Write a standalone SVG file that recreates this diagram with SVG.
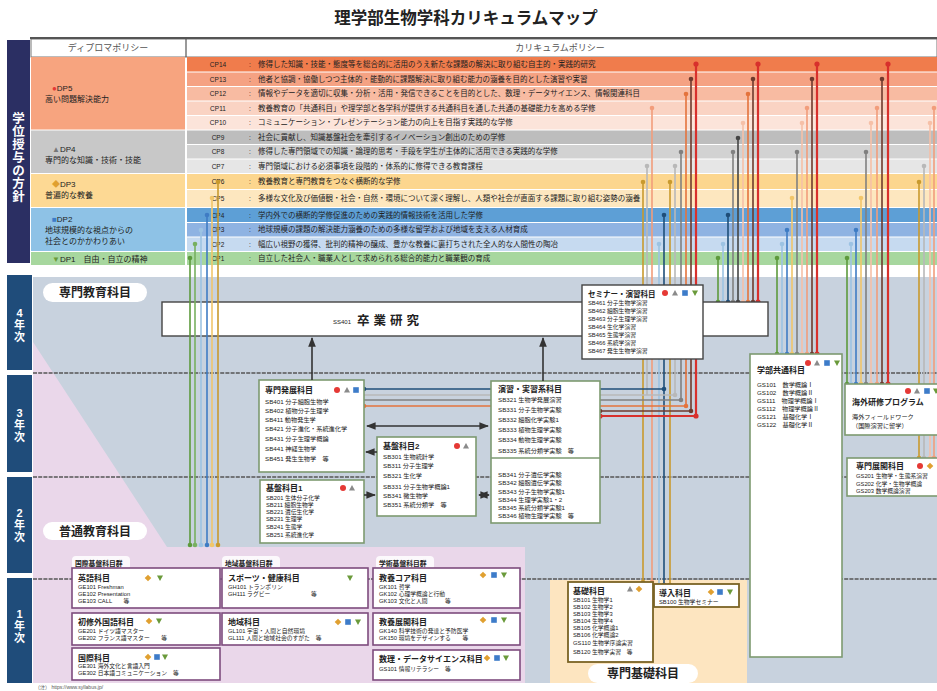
<svg xmlns="http://www.w3.org/2000/svg" width="937" height="691" viewBox="0 0 937 691">
<defs>
<style>
text{font-family:"Liberation Sans","Noto Sans CJK JP",sans-serif;fill:#222}
.ttl{font-size:16.5px;font-weight:bold;text-anchor:middle}
.hd{font-size:9px;fill:#555;text-anchor:middle}
.cpl{font-size:6.5px;fill:#444;text-anchor:middle}
.cpt{font-size:7.5px}
.dp{font-size:8px}
.bt{font-size:8px;font-weight:bold}
.bt2{font-size:7.5px;font-weight:bold}
.r{font-size:6.2px}
.r2{font-size:5.8px}
.pill{font-size:12px;font-weight:bold;text-anchor:middle}
.grp{font-size:6.8px;font-weight:bold}
.yr{font-size:11px;font-weight:bold;fill:#fff;text-anchor:middle}
.vt{font-size:12.5px;font-weight:bold;fill:#fff;text-anchor:middle}
.box{fill:#fff;stroke:#7d9a70;stroke-width:1.6}
.boxd{fill:#fff;stroke:#444;stroke-width:1.4}
.bx1{fill:#fff;stroke:#7d4c7d;stroke-width:1.6}
.bx2{fill:#fff;stroke:#7a6324;stroke-width:1.8}
.dash{stroke:#555;stroke-width:1.4;stroke-dasharray:4 1.2;fill:none}
.ar{stroke:#333;stroke-width:1.5;fill:none}
#conn-back path,#conn-front path{stroke-width:1.6;fill:none}
circle.d{stroke:none}
.G1{stroke:#5d9a3c;fill:#5d9a3c}
.G2{stroke:#78b060;fill:#78b060}
.LB{stroke:#9dc3e3;fill:#9dc3e3}
.BL{stroke:#3f7cc4;fill:#3f7cc4}
.NV{stroke:#1f4e79;fill:#1f4e79}
.LY{stroke:#f2c66a;fill:#f2c66a}
.GD{stroke:#c99a2e;fill:#c99a2e}
.LG{stroke:#b8b8b8;fill:#b8b8b8}
.GR{stroke:#808080;fill:#808080}
.DG{stroke:#454545;fill:#454545}
.PS{stroke:#f6c0a8;fill:#f6c0a8}
.LS{stroke:#f29d7b;fill:#f29d7b}
.OR{stroke:#e4733d;fill:#e4733d}
.DK{stroke:#6e3a2e;fill:#6e3a2e}
.RD{stroke:#d8302c;fill:#d8302c}
#conn-back path.RD{stroke-width:2.2}
</style>
<marker id="ah" viewBox="0 0 10 10" refX="9" refY="5" markerWidth="6" markerHeight="6" orient="auto-start-reverse"><path d="M0,1 L10,5 L0,9Z" fill="#333"/></marker>
<g id="mC"><circle r="3" fill="#e53935"/></g>
<g id="mT"><path d="M0,-3 L3,2.5 L-3,2.5Z" fill="#8a8a8a"/></g>
<g id="mS"><rect x="-2.8" y="-2.8" width="5.6" height="5.6" fill="#3d7cc9"/></g>
<g id="mV"><path d="M-3,-2.5 L3,-2.5 L0,3Z" fill="#6a9a3a"/></g>
<g id="mD"><path d="M0,-3.3 L3.3,0 L0,3.3 L-3.3,0Z" fill="#e0a030"/></g>
</defs>

<rect width="937" height="691" fill="#fff"/>
<text class="ttl" x="466" y="24">理学部生物学科カリキュラムマップ</text>

<!-- policy table -->
<g id="policy">
<rect x="31" y="39" width="906" height="18" fill="#fff" stroke="#777" stroke-width="1"/>
<line x1="30" y1="38" x2="937" y2="38" stroke="#555" stroke-width="2"/>
<line x1="186" y1="39" x2="186" y2="57" stroke="#555" stroke-width="1.2"/>
<text class="hd" x="108" y="51">ディプロマポリシー</text>
<text class="hd" x="560" y="51">カリキュラムポリシー</text>

<rect x="31" y="57" width="154" height="72.5" fill="#f7a47f"/>
<rect x="31" y="130.5" width="154" height="42.5" fill="#c8c8c8"/>
<rect x="31" y="174" width="154" height="33" fill="#fdd994"/>
<rect x="31" y="208" width="154" height="43" fill="#8ec2e6"/>
<rect x="31" y="252" width="154" height="13" fill="#a7d79e"/>

<text class="dp" x="52" y="91"><tspan fill="#e53935">●</tspan>DP5</text>
<text class="dp" x="45" y="102">高い問題解決能力</text>
<text class="dp" x="52" y="152"><tspan fill="#777">▲</tspan>DP4</text>
<text class="dp" x="45" y="163">専門的な知識・技術・技能</text>
<text class="dp" x="52" y="187"><tspan fill="#e0a030">◆</tspan>DP3</text>
<text class="dp" x="45" y="198">普遍的な教養</text>
<text class="dp" x="52" y="222"><tspan fill="#3d7cc9">■</tspan>DP2</text>
<text class="dp" x="45" y="233">地球規模的な視点からの</text>
<text class="dp" x="45" y="244">社会とのかかわりあい</text>
<text class="dp" x="52" y="262"><tspan fill="#6a9a3a">▼</tspan>DP1　自由・自立の精神</text>

<rect x="187" y="57" width="750" height="14.5" fill="#f07c4c"/>
<rect x="187" y="72.5" width="750" height="13.5" fill="#f5a283"/>
<rect x="187" y="87" width="750" height="13.5" fill="#f8bba2"/>
<rect x="187" y="101.5" width="750" height="13.5" fill="#fad3c3"/>
<rect x="187" y="116" width="750" height="13.5" fill="#fce4da"/>
<rect x="187" y="130.5" width="750" height="13.5" fill="#bdbdbd"/>
<rect x="187" y="145" width="750" height="13.5" fill="#d2d2d2"/>
<rect x="187" y="159.5" width="750" height="13.5" fill="#e6e6e6"/>
<rect x="187" y="174" width="750" height="15" fill="#fcd68e"/>
<rect x="187" y="190" width="750" height="17" fill="#fde7bf"/>
<rect x="187" y="208" width="750" height="14" fill="#5d9fd6"/>
<rect x="187" y="223" width="750" height="13.5" fill="#8fb3e2"/>
<rect x="187" y="237.5" width="750" height="13.5" fill="#c6daf0"/>
<rect x="187" y="252" width="750" height="13" fill="#a7d79e"/>

<g class="cpl">
<text x="218" y="67">CP14</text><text x="218" y="82">CP13</text><text x="218" y="96">CP12</text>
<text x="218" y="111">CP11</text><text x="218" y="125">CP10</text><text x="218" y="140">CP9</text>
<text x="218" y="154">CP8</text><text x="218" y="169">CP7</text><text x="218" y="184">CP6</text>
<text x="218" y="201">CP5</text><text x="218" y="218">CP4</text><text x="218" y="232">CP3</text>
<text x="218" y="247">CP2</text><text x="218" y="261">CP1</text>
<text x="250" y="67">:</text><text x="250" y="82">:</text><text x="250" y="96">:</text><text x="250" y="111">:</text>
<text x="250" y="125">:</text><text x="250" y="140">:</text><text x="250" y="154">:</text><text x="250" y="169">:</text>
<text x="250" y="184">:</text><text x="250" y="201">:</text><text x="250" y="218">:</text><text x="250" y="232">:</text>
<text x="250" y="247">:</text><text x="250" y="261">:</text>
</g>
<g class="cpt">
<text x="258" y="67">修得した知識・技能・態度等を総合的に活用のうえ新たな課題の解決に取り組む自主的・実践的研究</text>
<text x="258" y="82">他者と協調・協働しつつ主体的・能動的に課題解決に取り組む能力の涵養を目的とした演習や実習</text>
<text x="258" y="96">情報やデータを適切に収集・分析・活用・発信できることを目的とした、数理・データサイエンス、情報関連科目</text>
<text x="258" y="111">教養教育の「共通科目」や理学部と各学科が提供する共通科目を通した共通の基礎能力を高める学修</text>
<text x="258" y="125">コミュニケーション・プレゼンテーション能力の向上を目指す実践的な学修</text>
<text x="258" y="140">社会に貢献し、知識基盤社会を牽引するイノベーション創出のための学修</text>
<text x="258" y="154">修得した専門領域での知識・論理的思考・手段を学生が主体的に活用できる実践的な学修</text>
<text x="258" y="169">専門領域における必須事項を段階的・体系的に修得できる教育課程</text>
<text x="258" y="184">教養教育と専門教育をつなぐ横断的な学修</text>
<text x="258" y="201">多様な文化及び価値観・社会・自然・環境について深く理解し、人類や社会が直面する課題に取り組む姿勢の涵養</text>
<text x="258" y="218">学内外での横断的学修促進のための実践的情報技術を活用した学修</text>
<text x="258" y="232">地球規模の課題の解決能力涵養のための多様な留学および地域を支える人材育成</text>
<text x="258" y="247">幅広い視野の獲得、批判的精神の醸成、豊かな教養に裏打ちされた全人的な人間性の陶冶</text>
<text x="258" y="261">自立した社会人・職業人として求められる総合的能力と職業観の育成</text>
</g>
</g>

<g id="policy-label">
<rect x="7" y="40" width="23" height="223" fill="#2b2f63"/>
<text class="vt" x="18.5" y="123">学</text><text class="vt" x="18.5" y="136">位</text><text class="vt" x="18.5" y="149">授</text>
<text class="vt" x="18.5" y="162">与</text><text class="vt" x="18.5" y="175">の</text><text class="vt" x="18.5" y="188">方</text><text class="vt" x="18.5" y="201">針</text>
</g>

<!-- main area -->
<g id="areas">
<rect x="33" y="277" width="904" height="406" fill="#c8d2de"/>
<polygon points="33,342 167,547 525,547 525,683 33,683" fill="#ead7ea"/>
<rect x="550" y="580" width="197" height="103" fill="#fde5c0"/>
</g>

<g id="years">
<rect x="7" y="275" width="25" height="95" fill="#1f4c7a"/>
<text class="yr" x="19.5" y="317">4</text><text class="yr" x="19.5" y="329">年</text><text class="yr" x="19.5" y="341">次</text>
<rect x="7" y="375" width="25" height="97" fill="#1f4c7a"/>
<text class="yr" x="19.5" y="417">3</text><text class="yr" x="19.5" y="429">年</text><text class="yr" x="19.5" y="441">次</text>
<rect x="7" y="477" width="25" height="96" fill="#1f4c7a"/>
<text class="yr" x="19.5" y="517">2</text><text class="yr" x="19.5" y="529">年</text><text class="yr" x="19.5" y="541">次</text>
<rect x="7" y="578" width="25" height="105" fill="#1f4c7a"/>
<text class="yr" x="19.5" y="618">1</text><text class="yr" x="19.5" y="630">年</text><text class="yr" x="19.5" y="642">次</text>
</g>

<g id="year-lines">
<path class="dash" d="M33 373H937M33 477H937M33 579H937"/>
</g>

<g id="area-labels">
<rect x="43" y="283" width="104" height="19" rx="9.5" fill="#fff"/>
<text class="pill" x="95" y="297">専門教育科目</text>
<rect x="43" y="522" width="104" height="18" rx="9" fill="#fff"/>
<text class="pill" x="95" y="536">普通教育科目</text>
<rect x="588" y="664" width="110" height="19" rx="9.5" fill="#fff"/>
<text class="pill" x="643" y="678">専門基礎科目</text>
</g>

<!-- connectors drawn behind boxes -->
<g id="conn-back">
<path class="GD" d="M643 182V582"/><circle class="d GD" cx="643" cy="182" r="2.3"/><circle class="d GD" cx="643" cy="582" r="2.3"/>
<path class="LG" d="M647 166V395"/><circle class="d LG" cx="647" cy="166" r="2.3"/>
<path class="LS" d="M652 108V582"/><circle class="d LS" cx="652" cy="108" r="2.3"/><circle class="d LS" cx="652" cy="582" r="2.3"/>
<path class="LB" d="M659 244V585"/><circle class="d LB" cx="659" cy="244" r="2.3"/><circle class="d LB" cx="659" cy="585" r="2.3"/>
<path class="NV" d="M664 215V585"/><circle class="d NV" cx="664" cy="215" r="2.3"/><circle class="d NV" cx="664" cy="585" r="2.3"/>
<path class="GD" d="M670 182V585"/><circle class="d GD" cx="670" cy="182" r="2.3"/><circle class="d GD" cx="670" cy="585" r="2.3"/>
<path class="LG" d="M675 166V395"/><circle class="d LG" cx="675" cy="166" r="2.3"/>
<path class="GR" d="M681 152V400"/><circle class="d GR" cx="681" cy="152" r="2.3"/>
<path class="OR" d="M686 94V406"/><circle class="d OR" cx="686" cy="94" r="2.3"/>
<path class="DK" d="M691 79V411"/><circle class="d DK" cx="691" cy="79" r="2.3"/>
<path class="RD" d="M696 64V416"/><circle class="d RD" cx="696" cy="64" r="2.6"/>

<path class="NV" d="M364 389H664"/><circle class="d NV" cx="664" cy="389" r="2.3"/><circle class="d NV" cx="364" cy="389" r="2.3"/>
<path class="LG" d="M364 395H675"/><circle class="d LG" cx="675" cy="395" r="2.3"/>
<path class="GR" d="M364 400H681"/><circle class="d GR" cx="681" cy="400" r="2.3"/>
<path class="OR" d="M364 406H686"/><circle class="d OR" cx="686" cy="406" r="2.3"/><circle class="d OR" cx="364" cy="406" r="2.3"/>
<path class="DK" d="M600 411H691"/><circle class="d DK" cx="691" cy="411" r="2.3"/><circle class="d DK" cx="600" cy="411" r="2.3"/>
<path class="RD" d="M600 416H696"/><circle class="d RD" cx="696" cy="416" r="2.6"/><circle class="d RD" cx="600" cy="416" r="2.6"/>

<path class="G1" d="M718 258V302"/><circle class="d G1" cx="718" cy="258" r="2.3"/><circle class="d G1" cx="718" cy="302" r="2.3"/>
<path class="LB" d="M723 244V302"/><circle class="d LB" cx="723" cy="244" r="2.3"/><circle class="d LB" cx="723" cy="302" r="2.3"/>
<path class="NV" d="M728 215V302"/><circle class="d NV" cx="728" cy="215" r="2.3"/><circle class="d NV" cx="728" cy="302" r="2.3"/>
<path class="GR" d="M733 152V302"/><circle class="d GR" cx="733" cy="152" r="2.3"/><circle class="d GR" cx="733" cy="302" r="2.3"/>
<path class="DG" d="M738 138V302"/><circle class="d DG" cx="738" cy="138" r="2.3"/><circle class="d DG" cx="738" cy="302" r="2.3"/>
<path class="PS" d="M743 123V302"/><circle class="d PS" cx="743" cy="123" r="2.3"/><circle class="d PS" cx="743" cy="302" r="2.3"/>
<path class="OR" d="M748 94V302"/><circle class="d OR" cx="748" cy="94" r="2.3"/><circle class="d OR" cx="748" cy="302" r="2.3"/>
<path class="DK" d="M753 79V302"/><circle class="d DK" cx="753" cy="79" r="2.3"/><circle class="d DK" cx="753" cy="302" r="2.3"/>
<path class="RD" d="M758 64V302"/><circle class="d RD" cx="758" cy="64" r="2.6"/><circle class="d RD" cx="758" cy="302" r="2.6"/>

<path class="G1" d="M777 258V354"/><circle class="d G1" cx="777" cy="258" r="2.3"/><circle class="d G1" cx="777" cy="354" r="2.3"/>
<path class="LB" d="M782 244V354"/><circle class="d LB" cx="782" cy="244" r="2.3"/><circle class="d LB" cx="782" cy="354" r="2.3"/>
<path class="BL" d="M787 230V354"/><circle class="d BL" cx="787" cy="230" r="2.3"/><circle class="d BL" cx="787" cy="354" r="2.3"/>
<path class="LY" d="M792 198V354"/><circle class="d LY" cx="792" cy="198" r="2.3"/><circle class="d LY" cx="792" cy="354" r="2.3"/>
<path class="GR" d="M797 152V354"/><circle class="d GR" cx="797" cy="152" r="2.3"/><circle class="d GR" cx="797" cy="354" r="2.3"/>
<path class="PS" d="M802 123V354"/><circle class="d PS" cx="802" cy="123" r="2.3"/><circle class="d PS" cx="802" cy="354" r="2.3"/>
<path class="LS" d="M807 108V354"/><circle class="d LS" cx="807" cy="108" r="2.3"/><circle class="d LS" cx="807" cy="354" r="2.3"/>
<path class="DK" d="M812 79V354"/><circle class="d DK" cx="812" cy="79" r="2.3"/><circle class="d DK" cx="812" cy="354" r="2.3"/>
<path class="RD" d="M817 64V354"/><circle class="d RD" cx="817" cy="64" r="2.6"/><circle class="d RD" cx="817" cy="354" r="2.6"/>

<path class="G1" d="M847 258V384"/><circle class="d G1" cx="847" cy="258" r="2.3"/><circle class="d G1" cx="847" cy="384" r="2.3"/>
<path class="LB" d="M851 244V384"/><circle class="d LB" cx="851" cy="244" r="2.3"/><circle class="d LB" cx="851" cy="384" r="2.3"/>
<path class="BL" d="M856 230V384"/><circle class="d BL" cx="856" cy="230" r="2.3"/><circle class="d BL" cx="856" cy="384" r="2.3"/>
<path class="LY" d="M861 198V384"/><circle class="d LY" cx="861" cy="198" r="2.3"/><circle class="d LY" cx="861" cy="384" r="2.3"/>
<path class="GR" d="M866 152V384"/><circle class="d GR" cx="866" cy="152" r="2.3"/><circle class="d GR" cx="866" cy="384" r="2.3"/>
<path class="PS" d="M871 123V384"/><circle class="d PS" cx="871" cy="123" r="2.3"/><circle class="d PS" cx="871" cy="384" r="2.3"/>
<path class="LS" d="M877 108V384"/><circle class="d LS" cx="877" cy="108" r="2.3"/><circle class="d LS" cx="877" cy="384" r="2.3"/>
<path class="DK" d="M882 79V384"/><circle class="d DK" cx="882" cy="79" r="2.3"/><circle class="d DK" cx="882" cy="384" r="2.3"/>
<path class="RD" d="M888 64V384"/><circle class="d RD" cx="888" cy="64" r="2.6"/><circle class="d RD" cx="888" cy="384" r="2.6"/>

<path class="GD" d="M919 182V458"/><circle class="d GD" cx="919" cy="182" r="2.3"/><circle class="d GD" cx="919" cy="458" r="2.3"/>
<path class="LG" d="M924 166V458"/><circle class="d LG" cx="924" cy="166" r="2.3"/><circle class="d LG" cx="924" cy="458" r="2.3"/>
<path class="PS" d="M930 123V458"/><circle class="d PS" cx="930" cy="123" r="2.3"/><circle class="d PS" cx="930" cy="458" r="2.3"/>
<path class="LS" d="M934 108V458"/><circle class="d LS" cx="934" cy="108" r="2.3"/><circle class="d LS" cx="934" cy="458" r="2.3"/>
</g>

<!-- nodes -->
<g id="sotsuken">
<rect class="boxd" x="162" y="302" width="606" height="34"/>
<text x="333" y="324" style="font-size:6px">SS401</text>
<text x="357" y="325" style="font-size:12.5px;font-weight:bold;letter-spacing:4px">卒業研究</text>
</g>

<g id="seminar">
<rect class="boxd" x="582" y="285" width="121" height="74"/>
<text class="bt2" x="588" y="297">セミナー・演習科目</text>
<use href="#mC" x="665" y="293"/><use href="#mT" x="675" y="293"/><use href="#mS" x="685" y="293"/><use href="#mV" x="695" y="293"/>
<g class="r2">
<text x="588" y="305">SB461 分子生物学演習</text>
<text x="588" y="313">SB462 細胞生物学演習</text>
<text x="588" y="321">SB463 分子生理学演習</text>
<text x="588" y="329">SB464 生化学演習</text>
<text x="588" y="337">SB465 生態学演習</text>
<text x="588" y="345">SB466 系統学演習</text>
<text x="588" y="353">SB467 発生生物学演習</text>
</g>
</g>

<g id="senmon-hatten">
<rect class="box" x="259" y="380" width="105" height="92"/>
<text class="bt" x="265" y="393">専門発展科目</text>
<use href="#mC" x="337" y="390"/><use href="#mT" x="347" y="390"/><use href="#mS" x="356" y="390"/>
<g class="r">
<text x="265" y="404">SB401 分子細胞生物学</text>
<text x="265" y="413">SB402 植物分子生理学</text>
<text x="265" y="422">SB411 動物発生学</text>
<text x="265" y="431">SB421 分子進化・系統進化学</text>
<text x="265" y="441">SB431 分子生理学概論</text>
<text x="265" y="451">SB441 神経生物学</text>
<text x="265" y="461">SB451 発生生物学　等</text>
</g>
</g>

<g id="enshu-jisshu">
<rect class="box" x="491" y="381" width="109" height="142"/>
<line x1="491" y1="458" x2="600" y2="458" stroke="#7d9a70" stroke-width="1.6"/>
<text class="bt" x="498" y="392">演習・実習系科目</text>
<g class="r">
<text x="498" y="402">SB321 生物学発展演習</text>
<text x="498" y="412">SB331 分子生物学実験</text>
<text x="498" y="422">SB332 細胞化学実験1</text>
<text x="498" y="432">SB333 植物生理学実験</text>
<text x="498" y="442">SB334 動物生理学実験</text>
<text x="498" y="453">SB335 系統分類学実験　等</text>
<text x="498" y="477">SB341 分子遺伝学実験</text>
<text x="498" y="485">SB342 細胞遺伝学実験</text>
<text x="498" y="494">SB343 分子生物学実験1</text>
<text x="498" y="502">SB344 生理学実験1・2</text>
<text x="498" y="510">SB345 系統分類学実験1</text>
<text x="498" y="518">SB346 植物生理学実験　等</text>
</g>
</g>

<g id="kiban2">
<rect class="box" x="377" y="437" width="99" height="79"/>
<text class="bt" x="383" y="449">基盤科目2</text>
<use href="#mC" x="457" y="446"/><use href="#mT" x="466" y="446"/>
<g class="r">
<text x="383" y="459">SB301 生物統計学</text>
<text x="383" y="468">SB311 分子生理学</text>
<text x="383" y="478">SB321 生化学</text>
<text x="383" y="489">SB331 分子生物学概論1</text>
<text x="383" y="498">SB341 微生物学</text>
<text x="383" y="507">SB351 系統分類学　等</text>
</g>
</g>

<g id="kiban1">
<rect class="box" x="260" y="480" width="104" height="63"/>
<text class="bt" x="266" y="491">基盤科目1</text>
<use href="#mC" x="343" y="488"/><use href="#mT" x="352" y="488"/>
<g class="r2">
<text x="266" y="500">SB201 生体分子化学</text>
<text x="266" y="507">SB211 細胞生物学</text>
<text x="266" y="514">SB221 遺伝生化学</text>
<text x="266" y="521">SB231 生理学</text>
<text x="266" y="529">SB241 生態学</text>
<text x="266" y="537">SB251 系統進化学</text>
</g>
</g>

<g id="gakubu-kyotsu">
<rect class="box" x="750" y="354" width="92" height="303"/>
<text class="bt" x="757" y="373">学部共通科目</text>
<use href="#mC" x="808" y="363"/><use href="#mT" x="817" y="363"/><use href="#mS" x="827" y="363"/><use href="#mV" x="837" y="363"/>
<g class="r">
<text x="757" y="387">GS101　数学概論Ⅰ</text>
<text x="757" y="395">GS102　数学概論Ⅱ</text>
<text x="757" y="403">GS111　物理学概論Ⅰ</text>
<text x="757" y="411">GS112　物理学概論Ⅱ</text>
<text x="757" y="419">GS121　基礎化学Ⅰ</text>
<text x="757" y="427">GS122　基礎化学Ⅱ</text>
</g>
</g>

<g id="kaigai">
<rect class="box" x="845" y="384" width="100" height="51"/>
<text class="bt" x="852" y="405">海外研修プログラム</text>
<use href="#mC" x="908" y="391"/><use href="#mT" x="917" y="391"/><use href="#mS" x="927" y="391"/><use href="#mV" x="936" y="391"/>
<text class="r" x="852" y="419">海外フィールドワーク</text>
<text class="r" x="852" y="428">（国際演習に留学）</text>
</g>

<g id="senmon-tenkai">
<rect class="box" x="847" y="458" width="98" height="38"/>
<text class="bt" x="856" y="469">専門展開科目</text>
<use href="#mC" x="920" y="466"/><use href="#mD" x="930" y="466"/>
<g class="r2">
<text x="856" y="478">GS201 生物学・生態系演習</text>
<text x="856" y="486">GS202 化学・生物学概論</text>
<text x="856" y="493">GS203 数学概論演習</text>
</g>
</g>

<g id="kiso">
<rect class="bx2" x="568" y="582" width="85" height="80"/>
<text class="bt" x="573" y="594">基礎科目</text>
<use href="#mT" x="630" y="589"/><use href="#mD" x="639" y="589"/>
<g class="r2">
<text x="573" y="602">SB101 生物学1</text>
<text x="573" y="609">SB102 生物学2</text>
<text x="573" y="616">SB103 生物学3</text>
<text x="573" y="623">SB104 生物学4</text>
<text x="573" y="630">SB105 化学概論1</text>
<text x="573" y="637">SB106 化学概論2</text>
<text x="573" y="645">GS110 生物学序論実習</text>
<text x="573" y="654">SB120 生物学実習　等</text>
</g>
</g>

<g id="donyu">
<rect class="bx2" x="654" y="584" width="85" height="23"/>
<text class="bt" x="659" y="596">導入科目</text>
<use href="#mD" x="711" y="592"/><use href="#mS" x="720" y="592"/><use href="#mV" x="730" y="592"/>
<text class="r2" x="659" y="604">SB100 生物学セミナー</text>
</g>

<g id="group-labels">
<rect x="72" y="556" width="58" height="14" rx="4" fill="#fff" opacity="0.85"/>
<text class="grp" x="75" y="566">国際基盤科目群</text>
<rect x="222" y="556" width="58" height="14" rx="4" fill="#fff" opacity="0.85"/>
<text class="grp" x="225" y="566">地域基盤科目群</text>
<rect x="376" y="556" width="58" height="14" rx="4" fill="#fff" opacity="0.85"/>
<text class="grp" x="379" y="566">学術基盤科目群</text>
</g>

<g id="eigo">
<rect class="bx1" x="72" y="568" width="148" height="40"/>
<text class="bt" x="78" y="581">英語科目</text>
<use href="#mD" x="148" y="578"/><use href="#mV" x="160" y="578"/>
<text class="r2" x="78" y="589">GE101 Freshman</text>
<text class="r2" x="78" y="596">GE102 Presentation</text>
<text class="r2" x="78" y="603">GE103 CALL　　等</text>
</g>
<g id="shoshu">
<rect class="bx1" x="72" y="613" width="148" height="32"/>
<text class="bt" x="78" y="625">初修外国語科目</text>
<use href="#mD" x="149" y="621"/><use href="#mV" x="159" y="621"/>
<text class="r2" x="78" y="633">GE201 ドイツ語マスター</text>
<text class="r2" x="78" y="640">GE202 フランス語マスター　　等</text>
</g>
<g id="kokusai">
<rect class="bx1" x="72" y="648" width="148" height="32"/>
<text class="bt" x="78" y="661">国際科目</text>
<use href="#mD" x="148" y="657"/><use href="#mS" x="157" y="657"/><use href="#mV" x="165" y="657"/>
<text class="r2" x="78" y="668">GE301 海外文化と言語入門</text>
<text class="r2" x="78" y="675">GE302 日本語コミュニケーション　等</text>
</g>
<g id="sports">
<rect class="bx1" x="222" y="568" width="146" height="40"/>
<text class="bt" x="228" y="581">スポーツ・健康科目</text>
<use href="#mV" x="350" y="578"/>
<text class="r2" x="228" y="589">GH101 トランポリン</text>
<text class="r2" x="228" y="596">GH111 ラグビー　　　　　　　等</text>
</g>
<g id="chiiki">
<rect class="bx1" x="222" y="613" width="146" height="32"/>
<text class="bt" x="228" y="625">地域科目</text>
<use href="#mD" x="338" y="622"/><use href="#mS" x="348" y="622"/><use href="#mV" x="358" y="622"/>
<text class="r2" x="228" y="633">GL101 宇宙・人間と自然環境</text>
<text class="r2" x="228" y="640">GL111 人間と地域社会のすがた　等</text>
</g>
<g id="kyoyo-core">
<rect class="bx1" x="373" y="568" width="147" height="40"/>
<text class="bt" x="379" y="581">教養コア科目</text>
<use href="#mD" x="483" y="575"/><use href="#mS" x="494" y="575"/><use href="#mV" x="504" y="575"/>
<text class="r2" x="379" y="589">GK101 哲学</text>
<text class="r2" x="379" y="596">GK102 心理学概論と行動</text>
<text class="r2" x="379" y="603">GK103 文化と人間　　　等</text>
</g>
<g id="kyoyo-tenkai">
<rect class="bx1" x="373" y="613" width="147" height="32"/>
<text class="bt" x="379" y="625">教養展開科目</text>
<use href="#mD" x="483" y="620"/><use href="#mS" x="494" y="620"/><use href="#mV" x="504" y="620"/>
<text class="r2" x="379" y="633">GK140 科学技術の発達と予防医学</text>
<text class="r2" x="379" y="640">GK150 環境をデザインする　　等</text>
</g>
<g id="suri-ds">
<rect class="bx1" x="373" y="650" width="147" height="30"/>
<text class="bt" x="379" y="662">数理・データサイエンス科目</text>
<use href="#mD" x="487" y="658"/><use href="#mS" x="497" y="658"/><use href="#mV" x="506" y="658"/>
<text class="r2" x="379" y="671">GS101 情報リテラシー　等</text>
</g>

<text x="35" y="689" style="font-size:5px;fill:#555">（注） https://www.syllabus.jp/</text>

<!-- arrows and front connectors -->
<g id="conn-front">
<path class="ar" d="M312 380V338" marker-end="url(#ah)" style="stroke:#333"/>
<path class="ar" d="M543 381V338" marker-end="url(#ah)" style="stroke:#333"/>
<path class="ar" d="M367 426H488" marker-start="url(#ah)" marker-end="url(#ah)" style="stroke:#333"/>
<path class="ar" d="M377 452H366" marker-end="url(#ah)" style="stroke:#333"/>
<path class="ar" d="M364 495H375" marker-end="url(#ah)" style="stroke:#333"/>
<path class="ar" d="M479 495H489" marker-start="url(#ah)" marker-end="url(#ah)" style="stroke:#333"/>

<path class="G1" d="M190 258V545"/><circle class="d G1" cx="190" cy="258" r="2.3"/><circle class="d G1" cx="190" cy="545" r="2.3"/>
<path class="G2" d="M195 244V545"/><circle class="d G2" cx="195" cy="244" r="2.3"/><circle class="d G2" cx="195" cy="545" r="2.3"/>
<path class="LB" d="M201 230V545"/><circle class="d LB" cx="201" cy="230" r="2.3"/><circle class="d LB" cx="201" cy="545" r="2.3"/>
<path class="BL" d="M207 215V545"/><circle class="d BL" cx="207" cy="215" r="2.3"/><circle class="d BL" cx="207" cy="545" r="2.3"/>
<path class="LY" d="M212 198V545"/><circle class="d LY" cx="212" cy="198" r="2.3"/><circle class="d LY" cx="212" cy="545" r="2.3"/>
<path class="GD" d="M218 182V545"/><circle class="d GD" cx="218" cy="182" r="2.3"/><circle class="d GD" cx="218" cy="545" r="2.3"/>
</g>
</svg>
